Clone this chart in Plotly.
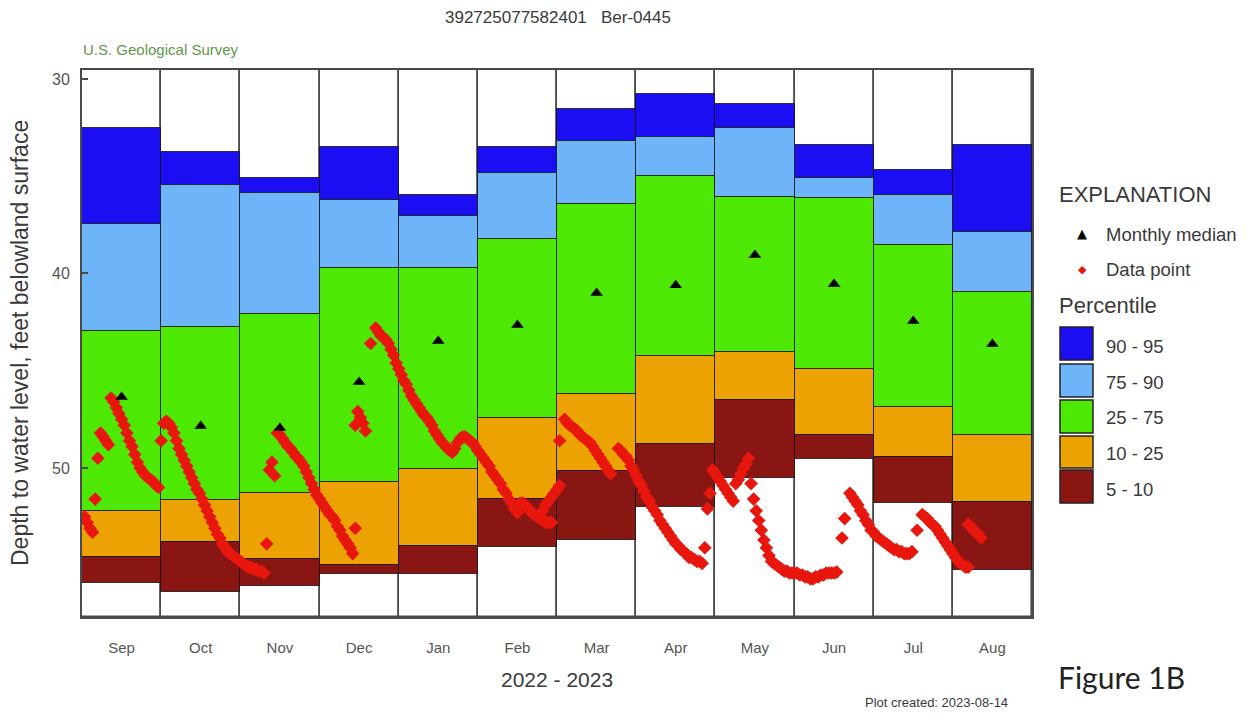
import calendar
from datetime import date, timedelta

import plotly.graph_objects as go

# ---------------------------------------------------------------------------
# Monthly percentile statistics (depth to water, feet below land surface)
# ---------------------------------------------------------------------------
months = ["Sep", "Oct", "Nov", "Dec", "Jan", "Feb", "Mar", "Apr", "May", "Jun", "Jul", "Aug"]

p95 = [32.50, 33.75, 35.11, 33.50, 35.96, 33.50, 31.54, 30.77, 31.29, 33.39, 34.68, 33.39]
p90 = [37.47, 35.47, 35.88, 36.22, 37.04, 34.83, 33.19, 32.98, 32.52, 35.09, 35.96, 37.87]
p75 = [42.94, 42.73, 42.08, 39.72, 39.72, 38.23, 36.43, 34.99, 36.07, 36.12, 38.53, 40.95]
p25 = [52.21, 51.67, 51.27, 50.70, 50.07, 47.44, 46.21, 44.24, 44.05, 44.91, 46.85, 48.30]
p10 = [54.56, 53.82, 54.69, 54.99, 54.01, 51.61, 50.14, 48.77, 46.50, 48.30, 49.45, 51.73]
p05 = [55.93, 56.39, 56.05, 55.45, 55.45, 54.05, 53.70, 51.99, 50.53, 49.55, 51.78, 55.24]
monthly_median = [46.35, 47.84, 47.94, 45.58, 43.47, 42.65, 41.00, 40.60, 39.05, 40.54, 42.44, 43.62]

# ---------------------------------------------------------------------------
# Daily water-level records, one list per continuous run of days
# ---------------------------------------------------------------------------
run_sep_a = ("2022-09-02", [52.5, 52.8, 53.1, 53.3])
run_sep_b = ("2022-09-12", [46.4, 46.6, 46.9, 47.2, 47.5, 47.8, 48.2, 48.6, 48.9, 49.3,
                            49.7, 50.0, 50.2, 50.4, 50.5, 50.6, 50.7, 50.9, 51.0])
run_oct = ("2022-10-02", [47.7, 47.6, 47.7, 47.9, 48.2, 48.6, 49.0, 49.3, 49.6, 49.9,
                          50.2, 50.5, 50.8, 51.1, 51.3, 51.6, 51.9, 52.2, 52.5, 52.8,
                          53.1, 53.4, 53.6, 53.9, 54.1, 54.3, 54.4, 54.5, 54.6, 54.7,
                          54.8, 54.9, 55.0, 55.1, 55.1, 55.2, 55.2, 55.3, 55.3, 55.4])
run_nov = ("2022-11-15", [48.2, 48.3, 48.5, 48.7, 48.9, 49.0, 49.2, 49.4, 49.5, 49.7,
                          49.9, 50.2, 50.5, 50.8, 51.1, 51.4,
                          51.6, 51.8, 52.0, 52.2, 52.4, 52.5, 52.7, 53.0, 53.2, 53.5,
                          53.7, 53.9, 54.1, 54.4])
run_dec = ("2022-12-23", [42.8, 43.0, 43.2, 43.3, 43.4, 43.6, 43.9, 44.2, 44.6,
                          44.9, 45.2, 45.5, 45.7, 46.0, 46.3, 46.5, 46.7, 46.9, 47.1,
                          47.3, 47.4, 47.6, 47.8, 48.1, 48.3, 48.5, 48.7, 48.8, 49.0,
                          49.1, 49.2, 49.0, 48.7, 48.5, 48.4, 48.4, 48.5, 48.6, 48.7,
                          48.9,
                          49.1, 49.3, 49.5, 49.7, 49.9, 50.2, 50.4, 50.6, 50.8, 51.1,
                          51.3, 51.6, 51.8, 52.1, 52.3, 51.8, 51.8, 52.0, 52.1, 52.3,
                          52.4, 52.5, 52.6, 52.7, 52.8, 52.8, 52.8])
run_feb = ("2023-02-23", [52.5, 52.2, 51.9, 51.7, 51.5, 51.3, 51.1, 50.9])
run_mar_a = ("2023-03-04", [47.5, 47.7, 47.8, 47.9, 48.0, 48.1, 48.3, 48.4, 48.5, 48.6,
                            48.7, 48.9, 49.1, 49.3, 49.5, 49.7, 49.9, 50.1, 50.3])
run_mar_b = ("2023-03-25", [49.0, 49.1, 49.3, 49.4, 49.6, 49.9, 50.1,
                            50.4, 50.7, 50.9, 51.2, 51.5, 51.7, 52.0, 52.2, 52.4, 52.7,
                            52.9, 53.1, 53.3, 53.5, 53.7, 53.9, 54.0, 54.2, 54.3, 54.4,
                            54.6, 54.6, 54.7, 54.8, 54.8, 54.9])
run_apr = ("2023-04-30", [50.1, 50.3, 50.5, 50.7, 50.9, 51.1, 51.3, 51.5, 51.7])
run_may_a = ("2023-05-09", [50.8, 50.6, 50.3, 50.0, 49.8, 49.5])
run_may_b = ("2023-05-15", [50.8, 51.6, 52.2, 52.7, 53.2, 53.7, 54.1, 54.5, 54.8, 54.9,
                            55.0, 55.1, 55.2, 55.3, 55.3, 55.4, 55.4,
                            55.4, 55.4, 55.5, 55.5, 55.6, 55.6, 55.7, 55.7, 55.6, 55.6,
                            55.5, 55.5, 55.4, 55.4, 55.4, 55.4, 55.35])
run_jun = ("2023-06-22", [51.3, 51.5, 51.7, 51.9, 52.2, 52.4, 52.7, 52.9, 53.2,
                          53.3, 53.5, 53.6, 53.7, 53.8, 53.9, 54.0, 54.1, 54.2, 54.2,
                          54.3, 54.3, 54.4, 54.4, 54.4, 54.3])
run_jul = ("2023-07-20", [52.4, 52.5, 52.6, 52.8, 52.9, 53.0, 53.2, 53.4, 53.6, 53.8,
                          54.0, 54.2, 54.4, 54.6, 54.8, 54.9, 55.0, 55.1, 55.1])
run_aug = ("2023-08-07", [52.9, 53.0, 53.2, 53.3, 53.4, 53.6])

daily_runs = [run_sep_a, run_sep_b, run_oct, run_nov, run_dec, run_feb, run_mar_a,
              run_mar_b, run_apr, run_may_a, run_may_b, run_jun, run_jul, run_aug]

# Isolated readings
single_dates = ["2022-09-06", "2022-09-07", "2022-09-08", "2022-09-09", "2022-09-10",
                "2022-09-11", "2022-10-01", "2022-11-11", "2022-11-12", "2022-11-13",
                "2022-11-14", "2022-12-15", "2022-12-15", "2022-12-16", "2022-12-17",
                "2022-12-18", "2022-12-19", "2022-12-21", "2023-03-02", "2023-04-27",
                "2023-04-28", "2023-04-29", "2023-06-19", "2023-06-20", "2023-07-18"]
single_depths = [51.6, 49.5, 48.2, 48.4, 48.6, 48.8, 48.6, 53.9, 50.1, 49.7,
                 50.4, 53.1, 47.8, 47.1, 47.4, 47.7, 48.1, 43.6, 48.6, 54.1,
                 52.1, 51.3, 53.6, 52.6, 53.2]

# ---------------------------------------------------------------------------
# Styling
# ---------------------------------------------------------------------------
FONT = "Liberation Sans, Arial, sans-serif"
TEXT = "#3a3a3a"
band_colors = {
    "90 - 95": "#1c0ef2",
    "75 - 90": "#6db4f8",
    "25 - 75": "#4ee805",
    "10 - 25": "#eba202",
    "5 - 10": "#8a1614",
}
POINT_RED = "#e8170d"

Y_TOP, Y_BOTTOM = 29.54, 57.66


def month_position(d):
    """Position on the 12-column water-year axis (each month one unit wide)."""
    idx = (d.year - 2022) * 12 + d.month - 9
    ndays = calendar.monthrange(d.year, d.month)[1]
    return idx + (d.day - 1) / ndays


def parse(s):
    y, m, dd = (int(v) for v in s.split("-"))
    return date(y, m, dd)


pt_x, pt_y = [], []
for start, values in daily_runs:
    d0 = parse(start)
    for k, v in enumerate(values):
        pt_x.append(month_position(d0 + timedelta(days=k)))
        pt_y.append(v)
for s, v in zip(single_dates, single_depths):
    pt_x.append(month_position(parse(s)))
    pt_y.append(v)

centers = [i + 0.5 for i in range(len(months))]

fig = go.Figure()

# white month columns spanning the whole depth range
fig.add_trace(go.Bar(
    x=centers, base=[Y_TOP] * 12, y=[Y_BOTTOM - Y_TOP] * 12, width=1,
    marker=dict(color="white", line=dict(color="#4a4a4a", width=1.6)),
    hoverinfo="skip",
))

bands = [
    ("90 - 95", p95, p90),
    ("75 - 90", p90, p75),
    ("25 - 75", p75, p25),
    ("10 - 25", p25, p10),
    ("5 - 10", p10, p05),
]
for name, upper, lower in bands:
    fig.add_trace(go.Bar(
        x=centers, base=upper, y=[lo - up for up, lo in zip(upper, lower)], width=1,
        name=name,
        marker=dict(color=band_colors[name], line=dict(color="rgba(20,20,20,0.8)", width=1)),
    ))

fig.add_trace(go.Scatter(
    x=pt_x, y=pt_y, mode="markers", name="Data point",
    marker=dict(symbol="diamond", size=10.5, color=POINT_RED, line=dict(width=0)),
))

fig.add_trace(go.Scatter(
    x=centers, y=monthly_median, mode="markers", name="Monthly median",
    marker=dict(symbol="triangle-up", size=11, color="black"),
))

# ---------------------------------------------------------------------------
# Layout and annotations (positions given in page pixels)
# ---------------------------------------------------------------------------
L, R, T, B = 82, 1032, 70, 617
W, H = 1250, 717


def px(x):
    return (x - L) / (R - L)


def py(y):
    return (B - y) / (B - T)


fig.update_layout(
    width=W, height=H,
    margin=dict(l=L, r=W - R, t=T, b=H - B, pad=0),
    paper_bgcolor="white", plot_bgcolor="white",
    barmode="overlay", bargap=0, showlegend=False,
    font=dict(family=FONT, color=TEXT),
)
fig.update_xaxes(
    range=[0, 12], tickvals=centers, ticktext=months, ticks="",
    showgrid=False, zeroline=False, showline=True, mirror=True,
    linecolor="#4a4a4a", linewidth=2,
    tickfont=dict(size=15, color="#555"), ticklabelstandoff=16,
)
fig.update_yaxes(
    range=[Y_BOTTOM, Y_TOP], tickvals=[30, 40, 50], ticks="inside", ticklen=6,
    tickcolor="#4a4a4a", tickwidth=2,
    showgrid=False, zeroline=False, showline=True, mirror=True,
    linecolor="#4a4a4a", linewidth=2,
    tickfont=dict(size=16, color="#555"), ticklabelstandoff=7,
)

annotations = [
    dict(text="392725077582401\u00a0\u00a0\u00a0Ber-0445", x=px(558), y=py(17), size=17, anchor="center"),
    dict(text="U.S. Geological Survey", x=px(81), y=py(49), size=15, anchor="left", color="#5c9a48"),
    dict(text="2022 - 2023", x=px(557), y=py(680), size=21, anchor="center"),
    dict(text="Plot created: 2023-08-14", x=px(936), y=py(702), size=13, anchor="center"),
    dict(text="EXPLANATION", x=px(1057), y=py(195), size=22, anchor="left"),
    dict(text="Monthly median", x=px(1104), y=py(234), size=18.5, anchor="left"),
    dict(text="Data point", x=px(1104), y=py(269), size=18.5, anchor="left"),
    dict(text="Percentile", x=px(1057), y=py(305), size=22, anchor="left"),
]
for a in annotations:
    fig.add_annotation(
        text=a["text"], x=a["x"], y=a["y"], xref="paper", yref="paper",
        xanchor=a["anchor"], yanchor="middle", showarrow=False,
        font=dict(family=FONT, size=a["size"], color=a.get("color", TEXT)),
    )

# y-axis title
fig.add_annotation(
    text="Depth to water level, feet belowland surface", x=px(20), y=py(343),
    xref="paper", yref="paper", xanchor="center", yanchor="middle", textangle=-90,
    showarrow=False, font=dict(family=FONT, size=23, color=TEXT),
)

# figure caption
fig.add_annotation(
    text="Figure 1B", x=px(1121), y=py(677), xref="paper", yref="paper",
    xanchor="center", yanchor="middle", showarrow=False,
    font=dict(family="Lato, Noto Sans, sans-serif", size=30, color="#222"),
)

# legend symbols
fig.add_annotation(text="\u25b2", x=px(1082), y=py(233), xref="paper", yref="paper",
                   xanchor="center", yanchor="middle", showarrow=False,
                   font=dict(family="DejaVu Sans", size=13, color="black"))
fig.add_annotation(text="\u25c6", x=px(1082), y=py(269), xref="paper", yref="paper",
                   xanchor="center", yanchor="middle", showarrow=False,
                   font=dict(family="DejaVu Sans", size=11, color=POINT_RED))

# percentile swatches
swatch_rows = [(327, 360, 346), (364, 397, 382), (400, 433, 417), (436, 468, 453), (470, 503, 489)]
for (name, _, _), (top, bot, mid) in zip(bands, swatch_rows):
    fig.add_shape(type="rect", xref="paper", yref="paper",
                  x0=px(1060), x1=px(1093), y0=py(bot), y1=py(top),
                  fillcolor=band_colors[name], line=dict(color="#222", width=1.5))
    fig.add_annotation(text=name, x=px(1104), y=py(mid), xref="paper", yref="paper",
                       xanchor="left", yanchor="middle", showarrow=False,
                       font=dict(family=FONT, size=18.5, color=TEXT))

fig.write_html("out.html")
